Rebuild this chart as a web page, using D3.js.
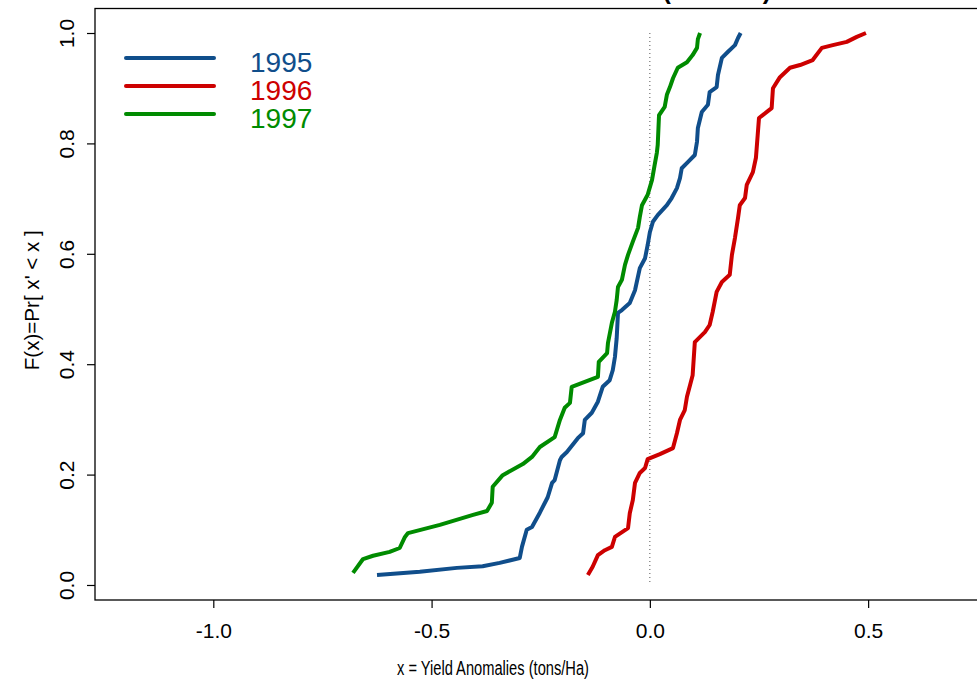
<!DOCTYPE html>
<html>
<head>
<meta charset="utf-8">
<script src="https://cdn.jsdelivr.net/npm/d3@7"></script>
<style>
  html, body { margin: 0; padding: 0; background: #ffffff; overflow: hidden; }
  svg { display: block; font-family: "Liberation Sans", Arial, sans-serif; }
</style>
</head>
<body>
<svg id="chart" width="977" height="687"></svg>
<script>
// ---------------- data ----------------
const years = ["1995", "1996", "1997"];
const colors = ["#104E8B", "#CD0000", "#008B00"];

const x1995 = [-0.625,-0.527,-0.442,-0.383,-0.344,-0.298,-0.293,-0.282,-0.270,-0.252,-0.234,-0.224,-0.218,-0.206,-0.202,-0.190,-0.165,-0.153,-0.149,-0.133,-0.119,-0.108,-0.092,-0.085,-0.080,-0.076,-0.073,-0.064,-0.046,-0.034,-0.023,-0.011,-0.005,0.000,0.007,0.018,0.039,0.050,0.062,0.069,0.073,0.087,0.103,0.108,0.110,0.119,0.133,0.137,0.153,0.156,0.165,0.179,0.195,0.202,0.208];
const F1995 = [0.018,0.024,0.031,0.034,0.040,0.049,0.069,0.100,0.105,0.131,0.159,0.185,0.190,0.226,0.232,0.241,0.266,0.275,0.299,0.312,0.332,0.359,0.371,0.389,0.413,0.447,0.493,0.498,0.511,0.534,0.574,0.592,0.616,0.639,0.658,0.670,0.688,0.701,0.719,0.737,0.755,0.766,0.779,0.803,0.828,0.857,0.870,0.893,0.902,0.924,0.955,0.966,0.978,0.991,1.000];

const x1996 = [-0.142,-0.131,-0.119,-0.103,-0.087,-0.080,-0.050,-0.046,-0.039,-0.034,-0.023,-0.011,-0.005,0.023,0.053,0.062,0.069,0.080,0.085,0.092,0.098,0.103,0.126,0.137,0.144,0.153,0.165,0.183,0.188,0.195,0.202,0.206,0.218,0.222,0.236,0.243,0.247,0.250,0.268,0.279,0.282,0.298,0.321,0.344,0.373,0.394,0.419,0.451,0.474,0.495];
const F1996 = [0.018,0.033,0.054,0.063,0.069,0.087,0.103,0.130,0.154,0.185,0.203,0.212,0.228,0.237,0.248,0.275,0.299,0.317,0.341,0.362,0.380,0.440,0.458,0.471,0.495,0.531,0.549,0.562,0.598,0.629,0.665,0.688,0.701,0.725,0.748,0.774,0.815,0.846,0.857,0.864,0.900,0.920,0.937,0.942,0.951,0.973,0.978,0.984,0.993,1.000];

const x1997 = [-0.680,-0.657,-0.634,-0.596,-0.573,-0.561,-0.554,-0.481,-0.405,-0.373,-0.362,-0.360,-0.337,-0.291,-0.270,-0.252,-0.218,-0.206,-0.195,-0.183,-0.179,-0.149,-0.119,-0.117,-0.098,-0.096,-0.087,-0.080,-0.076,-0.073,-0.064,-0.057,-0.050,-0.039,-0.027,-0.023,-0.018,-0.005,0.005,0.011,0.016,0.018,0.021,0.034,0.039,0.046,0.053,0.064,0.085,0.098,0.108,0.110,0.115];
const F1997 = [0.022,0.047,0.053,0.060,0.067,0.087,0.094,0.109,0.127,0.134,0.149,0.178,0.199,0.219,0.232,0.250,0.268,0.299,0.321,0.330,0.359,0.368,0.377,0.404,0.420,0.438,0.475,0.495,0.516,0.540,0.553,0.580,0.598,0.622,0.647,0.667,0.688,0.707,0.734,0.761,0.783,0.797,0.851,0.866,0.888,0.902,0.918,0.937,0.947,0.960,0.973,0.989,1.000];

const xTicks = [-1.0, -0.5, 0.0, 0.5];
const yTicks = [0.0, 0.2, 0.4, 0.6, 0.8, 1.0];
const xLabel = "x = Yield Anomalies (tons/Ha)";
const yLabel = "F(x)=Pr[ x' < x ]";
const titleText = "Cumulative Distribution (1995-97)";

// ---------------- drawing ----------------
const svg = d3.select("#chart");
const plot = { left: 95, top: 8.5, right: 986, bottom: 600 };

const x = d3.scaleLinear().domain([-1.271, 0.77]).range([plot.left, plot.right]);
const y = d3.scaleLinear().domain([-0.0272, 1.0444]).range([plot.bottom, plot.top]);

const series = [d3.zip(x1995, F1995), d3.zip(x1996, F1996), d3.zip(x1997, F1997)];
const fmt = d => d3.format(".1f")(d).replace("\u2212", "-");

// title (lies above the visible area, only the lowest part of its brackets shows)
svg.append("text")
  .attr("x", 771).attr("y", -0.8)
  .attr("text-anchor", "end")
  .attr("font-size", 25).attr("font-weight", "bold")
  .attr("fill", "#000")
  .text(titleText);

// dotted reference line at x = 0
svg.append("line")
  .attr("x1", x(0)).attr("x2", x(0))
  .attr("y1", y(1)).attr("y2", y(0))
  .attr("stroke", "#555").attr("stroke-width", 1)
  .attr("stroke-dasharray", "1,3");

// series lines
const line = d3.line().x(d => x(d[0])).y(d => y(d[1]));
series.forEach((s, i) => {
  svg.append("path")
    .datum(s)
    .attr("d", line)
    .attr("fill", "none")
    .attr("stroke", colors[i])
    .attr("stroke-width", 4)
    .attr("stroke-linejoin", "round")
    .attr("stroke-linecap", "butt");
});

// box
svg.append("rect")
  .attr("x", plot.left).attr("y", plot.top)
  .attr("width", plot.right - plot.left).attr("height", plot.bottom - plot.top)
  .attr("fill", "none").attr("stroke", "#000").attr("stroke-width", 1.3);

// x axis
const xAxis = d3.axisBottom(x).tickValues(xTicks).tickSize(8).tickPadding(15).tickFormat(fmt);
const gx = svg.append("g").attr("transform", `translate(0,${plot.bottom})`).call(xAxis);
gx.select(".domain").remove();
gx.selectAll("line").attr("stroke", "#000").attr("stroke-width", 1.2);
gx.selectAll("text").attr("font-size", 21).attr("fill", "#000")
  .attr("font-family", "Liberation Sans, Arial, sans-serif");

// y axis
const yAxis = d3.axisLeft(y).tickValues(yTicks).tickSize(8).tickPadding(0).tickFormat(fmt);
const gy = svg.append("g").attr("transform", `translate(${plot.left},0)`).call(yAxis);
gy.select(".domain").remove();
gy.selectAll("line").attr("stroke", "#000").attr("stroke-width", 1.2);
gy.selectAll("text")
  .attr("font-size", 21).attr("fill", "#000")
  .attr("font-family", "Liberation Sans, Arial, sans-serif")
  .attr("text-anchor", "middle")
  .attr("x", null)
  .attr("transform", "translate(-29,0) rotate(-90)")
  .attr("dy", "0.36em");

// axis labels
svg.append("text")
  .attr("x", 493).attr("y", 675)
  .attr("text-anchor", "middle")
  .attr("font-size", 20).attr("fill", "#000")
  .attr("textLength", 192).attr("lengthAdjust", "spacingAndGlyphs")
  .text(xLabel);

svg.append("text")
  .attr("transform", `translate(39,${(plot.top + plot.bottom) / 2 - 4}) rotate(-90)`)
  .attr("text-anchor", "middle")
  .attr("font-size", 20).attr("fill", "#000")
  .attr("textLength", 140).attr("lengthAdjust", "spacingAndGlyphs")
  .text(yLabel);

// legend
const legend = svg.append("g");
years.forEach((yr, i) => {
  const ly = 58 + i * 28;
  legend.append("line")
    .attr("x1", 126).attr("x2", 214)
    .attr("y1", ly).attr("y2", ly)
    .attr("stroke", colors[i]).attr("stroke-width", 4)
    .attr("stroke-linecap", "round");
  legend.append("text")
    .attr("x", 250).attr("y", ly + 14)
    .attr("font-size", 28).attr("fill", colors[i])
    .text(yr);
});
</script>
</body>
</html>
